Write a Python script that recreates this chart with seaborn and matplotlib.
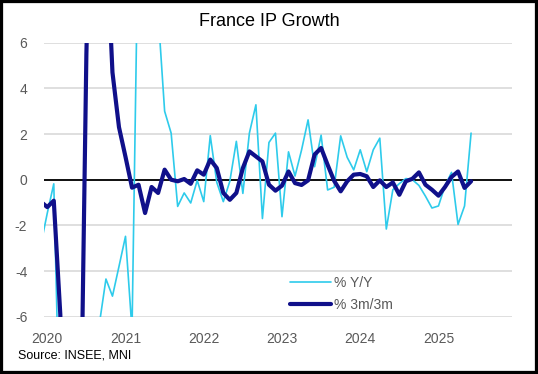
import matplotlib
matplotlib.use("Agg")
import matplotlib.pyplot as plt
import seaborn as sns
import pandas as pd
from matplotlib.patches import Rectangle

# monthly data, Dec 2019 .. Jun 2025 (Dec 2019 sits just left of the axis and is clipped)
meses = pd.date_range("2019-12-01", "2025-06-01", freq="MS")

yoy = [
    -2.87,
    -1.47, -0.18, -12.0, -34.0, -23.0, -12.0, -8.5, -7.0, -6.3, -4.35, -5.1, -3.8,
    -2.48, -6.6, 12.0, 44.0, 21.0, 7.3, 3.0, 2.04, -1.17, -0.58, -1.02, -0.03,
    -0.96, 1.93, -0.12, -0.96, -0.07, 1.68, -0.6, 2.04, 3.28, -1.7, 1.63, 2.04,
    -1.62, 1.22, 0.16, 1.3, 2.62, 0.57, 1.95, -0.45, -0.33, 1.92, 0.98, 0.43,
    1.31, 0.35, 1.31, 1.82, -2.16, -0.44, -0.17, 0.05, 0.0, -0.25, -0.72, -1.24,
    -1.15, -0.27, 0.32, -1.96, -1.15, 2.04,
]

tres_meses = [
    -0.96,
    -1.2, -0.92, -5.9, -18.0, -26.0, -14.0, 5.5, 18.0, 16.0, 11.0, 4.7, 2.3,
    1.0, -0.35, -0.22, -1.46, -0.32, -0.58, 0.44, 0.0, -0.07, 0.03, -0.18, 0.41,
    0.22, 0.88, 0.51, -0.58, -0.88, -0.58, 0.51, 1.24, 1.02, 0.8, -0.22, -0.48,
    -0.26, 0.36, -0.15, -0.23, -0.03, 1.1, 1.39, 0.65, -0.05, -0.51, -0.07, 0.22,
    0.25, 0.15, -0.32, -0.03, -0.32, -0.12, -0.66, -0.07, 0.04, 0.32, -0.22, -0.44,
    -0.7, -0.32, 0.12, 0.36, -0.36, -0.07,
]

anos = ["2020", "2021", "2022", "2023", "2024", "2025"]

df = pd.DataFrame({"data": meses, "yoy": yoy, "tres": tres_meses})
# month index, Jan 2020 = 0
df["mes"] = (df["data"].dt.year - 2020) * 12 + df["data"].dt.month - 1

sns.set_style("white")
plt.rcParams["font.family"] = ["Liberation Sans", "DejaVu Sans"]
plt.rcParams["axes.unicode_minus"] = False

fig = plt.figure(figsize=(5.38, 3.74), dpi=100)
fig.patch.set_facecolor("white")
ax = fig.add_axes([44 / 538, 1 - 316.7 / 374, 467.5 / 538, 274 / 374])

cor_texto = "#595959"

ax.yaxis.grid(True, color="#d9d9d9", linewidth=1.2)
ax.set_axisbelow(True)
ax.axhline(0, color="black", linewidth=1.3, zorder=1.5)

sns.lineplot(data=df, x="mes", y="yoy", color="#2ecbeb", linewidth=1.2,
             label="% Y/Y", ax=ax, zorder=2)
sns.lineplot(data=df, x="mes", y="tres", color="#10108a", linewidth=3.0,
             label="% 3m/3m", ax=ax, zorder=3)
for linha in ax.lines:
    linha.set_solid_joinstyle("round")

ax.set_xlim(-0.5, 71.2)
ax.set_ylim(-6, 6)
ax.set_yticks([-6, -4, -2, 0, 2, 4, 6])
ax.set_xticks([0, 12, 24, 36, 48, 60])
ax.set_xticklabels(anos)
ax.tick_params(axis="both", length=0, labelsize=10, colors=cor_texto)
ax.tick_params(axis="y", pad=12)
ax.tick_params(axis="x", pad=11)
ax.set_xlabel("")
ax.set_ylabel("")
for lado in ax.spines.values():
    lado.set_visible(False)

leg = ax.legend(loc="upper left", bbox_to_anchor=(0.526, 0.148), frameon=False,
                fontsize=10, handlelength=2.95, handletextpad=0.25,
                labelspacing=0.55, borderpad=0, borderaxespad=0)
for t in leg.get_texts():
    t.set_color(cor_texto)

fig.text(0.5, 1 - 22 / 374, "France IP Growth", ha="center", va="center",
         fontsize=13, color="black")
fig.text(18 / 538, 1 - 356 / 374, "Source: INSEE, MNI", ha="left", va="center",
         fontsize=9, color="black")

fig.patches.append(Rectangle((0, 0), 1, 1, transform=fig.transFigure, fill=False,
                             edgecolor="black", linewidth=4.5))

fig.savefig("out.png", dpi=100)
